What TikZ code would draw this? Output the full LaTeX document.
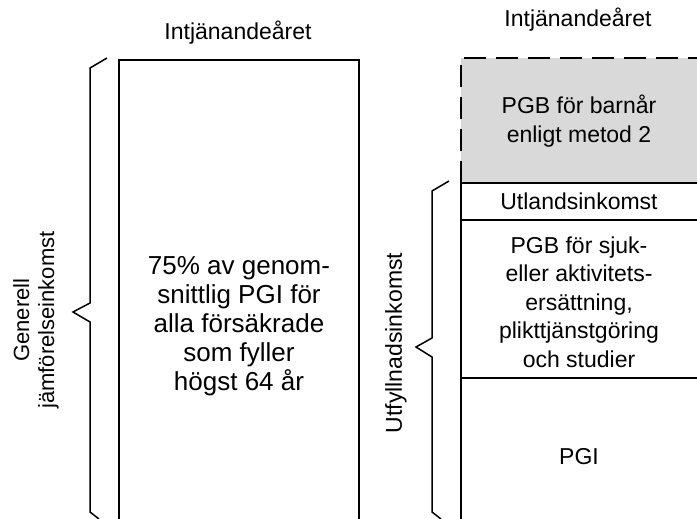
\documentclass[tikz,border=0pt]{standalone}
\usepackage{fontspec}
\setmainfont{Liberation Sans}
\begin{document}
\begin{tikzpicture}[x=1pt,y=-1pt,
  lbl/.style={inner sep=0pt,align=center,font=\fontsize{23}{28.5}\selectfont},
  edge/.style={line width=1.5pt,line join=miter},
  brace/.style={line width=1.5pt,line join=miter},
  dashedge/.style={line width=2pt,dash pattern=on 22pt off 10pt}]
\useasboundingbox (0,0) rectangle (697,519);
% left column
\fill[white] (119,60) rectangle (359,519);
\draw[edge] (119,519) -- (119,60) -- (359,60) -- (359,519);
% right stack
\fill[gray!30] (461,58) rectangle (697,183);
\draw[dashedge] (461,183) -- (461,58) -- (697,58);
\draw[edge] (461,519) -- (461,183);
\draw[edge] (461,183) -- (697,183);
\draw[edge] (461,220) -- (697,220);
\draw[edge] (461,378) -- (697,378);
% braces
\coordinate (lb1) at (107,58);
\coordinate (lb2) at (90,68);
\coordinate (lb3) at (90,303);
\coordinate (lbt) at (73,312);
\coordinate (lb4) at (90,322);
\coordinate (lb5) at (90,512);
\coordinate (lb6) at (99,519);
\draw[brace] (lb1) -- (lb2) -- (lb3) -- (lbt) -- (lb4) -- (lb5) -- (lb6);
\coordinate (rb1) at (449,181);
\coordinate (rb2) at (432,191);
\coordinate (rb3) at (432,338);
\coordinate (rbt) at (416,347);
\coordinate (rb4) at (432,357);
\coordinate (rb5) at (432,512);
\coordinate (rb6) at (441,519);
\draw[brace] (rb1) -- (rb2) -- (rb3) -- (rbt) -- (rb4) -- (rb5) -- (rb6);
% texts
\node[lbl] (t1) at (238,33) {Intjänandeåret};
\node[lbl] (t2) at (578,20) {Intjänandeåret};
\node[lbl,font=\fontsize{26}{29}\selectfont] (avg) at (239,326) {75\% av genom-\\snittlig PGI för\\alla försäkrade\\som fyller\\högst 64 år};
\node[lbl] (barn) at (579,121) {PGB för barnår\\enligt metod 2};
\node[lbl] (utl) at (579,201) {Utlandsinkomst};
\node[lbl] (sjuk) at (579,302) {PGB för sjuk-\\eller aktivitets-\\ersättning,\\plikttjänstgöring\\och studier};
\node[lbl] (pgi) at (579,457) {PGI};
\node[lbl,rotate=90,font=\fontsize{22}{25}\selectfont] (gen) at (36,320) {Generell\\jämförelseinkomst};
\node[lbl,rotate=90] (utf) at (396,343) {Utfyllnadsinkomst};
\end{tikzpicture}
\end{document}
